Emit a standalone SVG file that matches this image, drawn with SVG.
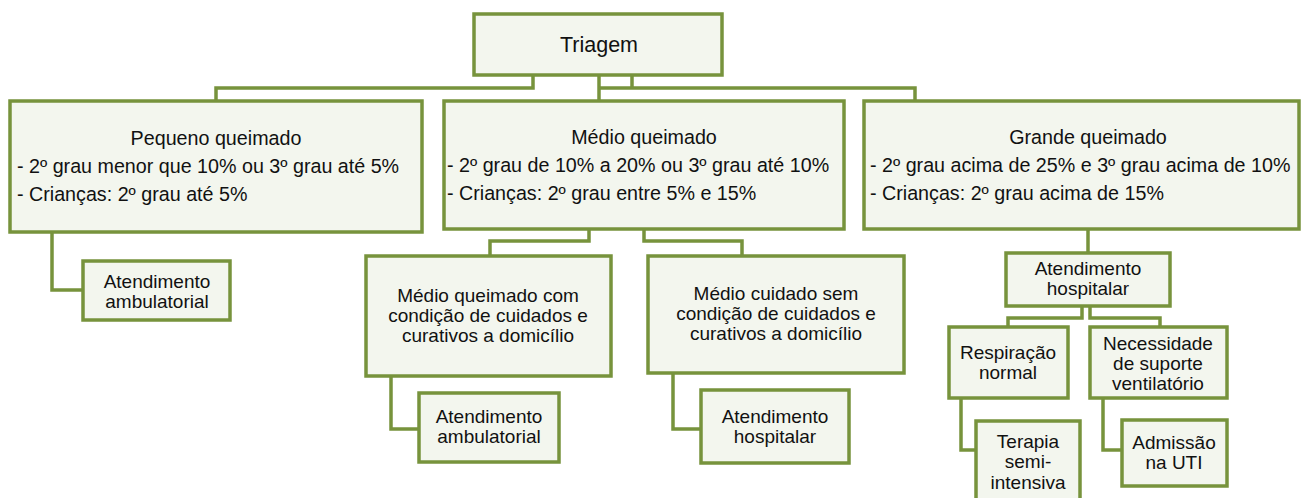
<svg xmlns="http://www.w3.org/2000/svg" width="1301" height="498" viewBox="0 0 1301 498">
<style>
.box{fill:#F3F6EE;stroke:#77933C;stroke-width:3.5}
.con{fill:none;stroke:#77933C;stroke-width:3.5;stroke-linejoin:miter}
text{font-family:"Liberation Sans",Arial,sans-serif;fill:#111111}
.t{font-size:19.7px}
.s{font-size:19px;text-anchor:middle}
.c{text-anchor:middle}
</style>
<rect width="1301" height="498" fill="#ffffff"/>
<g id="connectors">
<path class="con" d="M533,75 V88 H216 V101"/>
<path class="con" d="M599,75 V101"/>
<path class="con" d="M632,75 V88 M599,88 H915 V101"/>
<path class="con" d="M52,232 V290 H83"/>
<path class="con" d="M589,229 V241 H490 V256"/>
<path class="con" d="M644,229 V241 H742 V256"/>
<path class="con" d="M391,376 V429 H419"/>
<path class="con" d="M673,373 V429 H701"/>
<path class="con" d="M1088,229 V253"/>
<path class="con" d="M1082,306 V318 H1008 V327"/>
<path class="con" d="M1090,306 V318 H1160 V327"/>
<path class="con" d="M961,398 V450 H976"/>
<path class="con" d="M1103,398 V450 H1122"/>
</g>
<g id="triagem">
<rect class="box" x="474" y="14" width="248" height="61"/>
<text x="599" y="52" class="c" font-size="21.5">Triagem</text>
</g>
<g id="pequeno">
<rect class="box" x="10" y="101" width="412" height="131"/>
<text class="t c" x="216" y="145">Pequeno queimado</text>
<text class="t" x="17" y="173">- 2º grau menor que 10% ou 3º grau até 5%</text>
<text class="t" x="17" y="201">- Crianças: 2º grau até 5%</text>
</g>
<g id="medio">
<rect class="box" x="444" y="101" width="400" height="128"/>
<text class="t c" x="644" y="144">Médio queimado</text>
<text class="t" x="447" y="172">- 2º grau de 10% a 20% ou 3º grau até 10%</text>
<text class="t" x="447" y="200">- Crianças: 2º grau entre 5% e 15%</text>
</g>
<g id="grande">
<rect class="box" x="864" y="101" width="435" height="128"/>
<text class="t c" x="1088" y="144">Grande queimado</text>
<text class="t" x="870" y="172">- 2º grau acima de 25% e 3º grau acima de 10%</text>
<text class="t" x="870" y="200">- Crianças: 2º grau acima de 15%</text>
</g>
<g id="pequeno-ambulatorial">
<rect class="box" x="83" y="261" width="147" height="59"/>
<text class="s" x="157" y="288">Atendimento</text>
<text class="s" x="157" y="308">ambulatorial</text>
</g>
<g id="medio-com">
<rect class="box" x="366" y="256" width="245" height="120"/>
<text class="s" x="488" y="302">Médio queimado com</text>
<text class="s" x="488" y="322">condição de cuidados e</text>
<text class="s" x="488" y="342">curativos a domicílio</text>
</g>
<g id="medio-sem">
<rect class="box" x="648" y="256" width="256" height="117"/>
<text class="s" x="776" y="300">Médio cuidado sem</text>
<text class="s" x="776" y="320">condição de cuidados e</text>
<text class="s" x="776" y="340">curativos a domicílio</text>
</g>
<g id="medio-ambulatorial">
<rect class="box" x="419" y="393" width="140" height="69"/>
<text class="s" x="489" y="423">Atendimento</text>
<text class="s" x="489" y="443">ambulatorial</text>
</g>
<g id="medio-hospitalar">
<rect class="box" x="701" y="390" width="148" height="73"/>
<text class="s" x="775" y="423">Atendimento</text>
<text class="s" x="775" y="443">hospitalar</text>
</g>
<g id="grande-hospitalar">
<rect class="box" x="1006" y="253" width="164" height="53"/>
<text class="s" x="1088" y="275">Atendimento</text>
<text class="s" x="1088" y="295">hospitalar</text>
</g>
<g id="respiracao">
<rect class="box" x="949" y="327" width="119" height="71"/>
<text class="s" x="1008" y="359">Respiração</text>
<text class="s" x="1008" y="379">normal</text>
</g>
<g id="necessidade">
<rect class="box" x="1090" y="327" width="137" height="71"/>
<text class="s" x="1158" y="350">Necessidade</text>
<text class="s" x="1158" y="370">de suporte</text>
<text class="s" x="1158" y="390">ventilatório</text>
</g>
<g id="terapia">
<rect class="box" x="976" y="421" width="104" height="82"/>
<text class="s" x="1028" y="448">Terapia</text>
<text class="s" x="1028" y="468">semi-</text>
<text class="s" x="1028" y="489">intensiva</text>
</g>
<g id="admissao">
<rect class="box" x="1122" y="420" width="105" height="66"/>
<text class="s" x="1174" y="449">Admissão</text>
<text class="s" x="1174" y="469">na UTI</text>
</g>
</svg>
